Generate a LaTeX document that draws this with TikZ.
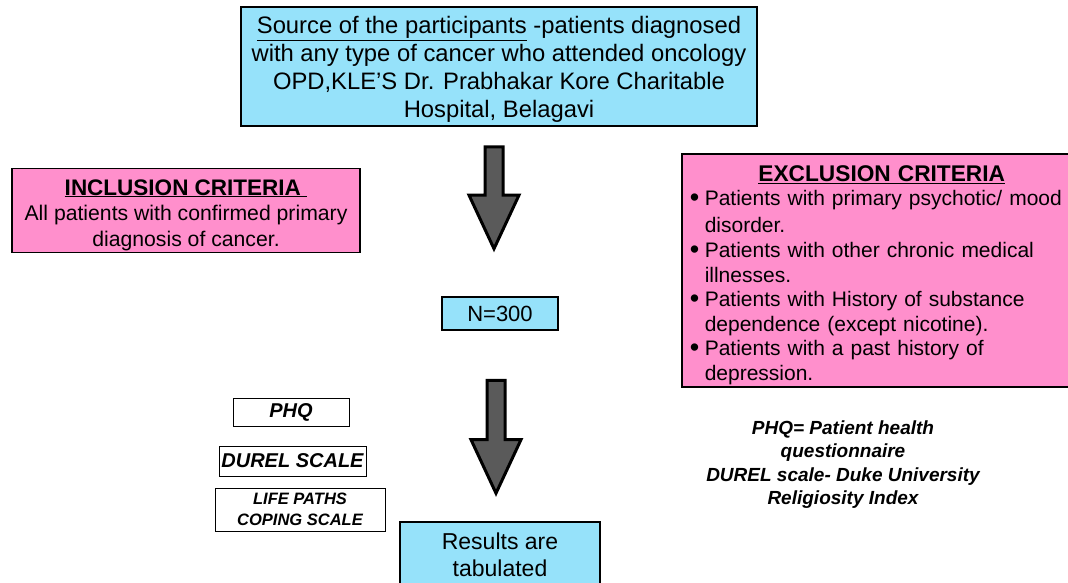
\documentclass[tikz,border=0pt]{standalone}
\usepackage{fontspec}
\setmainfont{Liberation Sans}
\usetikzlibrary{shapes.arrows,calc}
\definecolor{boxblue}{RGB}{150,226,250}
\definecolor{boxpink}{RGB}{255,143,204}
\definecolor{arrowgray}{RGB}{90,90,90}
\newcommand{\topgap}[1]{\rule{0pt}{#1}}
\newcommand{\bul}{\makebox[15pt][l]{\fontsize{27}{24.6}\selectfont\raisebox{-1pt}{\textbullet}}}
\tikzset{
  flowbox/.style={draw=black,line width=1.5pt,align=center,inner sep=2pt},
  bluebox/.style={flowbox,fill=boxblue},
  pinkbox/.style={flowbox,fill=boxpink},
  toolbox/.style={draw=black,line width=0.8pt,fill=white,align=center,inner sep=1pt,
    font=\fontsize{16.5}{21}\selectfont\bfseries\itshape},
  downarrow/.style={single arrow,draw=black,fill=arrowgray,line width=3pt,
    rotate=-90,anchor=tail,inner xsep=0pt,inner ysep=7.5pt,
    single arrow head extend=16pt,single arrow tip angle=50}
}
\begin{document}
\begin{tikzpicture}[x=1pt,y=-1pt]
\useasboundingbox (0,0) rectangle (1068,582);
% source of participants
\node[bluebox,minimum width=516pt,minimum height=119pt,font=\fontsize{23.8}{28}\selectfont]
  (src) at (499,66.5) {\topgap{23.4pt}\underline{Source of the participants} -patients diagnosed\\
  with any type of cancer who attended oncology\\
  OPD,KLE’S Dr. Prabhakar Kore Charitable\\
  Hospital, Belagavi};
% criteria
\node[pinkbox,minimum width=348pt,minimum height=83pt,font=\fontsize{21.2}{25.5}\selectfont]
  (incl) at (186,210.5) {\topgap{24.4pt}{\fontsize{22.5}{25.5}\selectfont\bfseries\underline{INCLUSION CRITERIA\ }}\\
  All patients with confirmed primary\\
  diagnosis of cancer.};
\node[pinkbox,minimum width=400pt,minimum height=231pt,text width=384pt,align=left,
  anchor=north west,font=\fontsize{21}{24.6}\selectfont]
  (excl) at (681,153) {\centerline{\topgap{25.6pt}\fontsize{22.7}{24.6}\selectfont\bfseries\underline{EXCLUSION CRITERIA}}
  \vspace{2.4pt}
  \bul Patients with primary psychotic/ mood\\
  \hspace*{15pt}disorder.\\
  \bul Patients with other chronic medical\\
  \hspace*{15pt}illnesses.\\
  \bul Patients with History of substance\\
  \hspace*{15pt}dependence (except nicotine).\\
  \bul Patients with a past history of\\
  \hspace*{15pt}depression.};
% sample
\node[bluebox,minimum width=116pt,minimum height=33pt,font=\fontsize{22}{24}\selectfont]
  (n300) at (500,313.5) {N=300};
\node[downarrow,minimum height=102pt] (arr1) at ($(src.south)+(-5,18.5)$) {};
\node[downarrow,minimum height=113pt] (arr2) at ($(n300.south)+(-4,48)$) {};
% tools
\node[toolbox,minimum width=116pt,minimum height=28pt,font=\fontsize{20}{22}\selectfont\bfseries\itshape]
  (phq) at (291,412) {PHQ};
\node[toolbox,minimum width=147pt,minimum height=30pt,font=\fontsize{20}{22}\selectfont\bfseries\itshape]
  (durel) at (292.5,461) {DUREL SCALE};
\node[toolbox,minimum width=170pt,minimum height=43pt] (life) at (300,509.5)
  {LIFE PATHS\\ COPING SCALE};
% results
\node[bluebox,minimum width=200pt,minimum height=66pt,anchor=north,
  font=\fontsize{23}{27}\selectfont] (res) at (500,521) {Results are\\ tabulated};
% abbreviations
\node[align=center,font=\fontsize{19}{23.5}\selectfont\bfseries\itshape]
  (abbr) at (843,464.5) {PHQ= Patient health\\ questionnaire\\
  DUREL scale- Duke University\\ Religiosity Index};
\end{tikzpicture}
\end{document}
